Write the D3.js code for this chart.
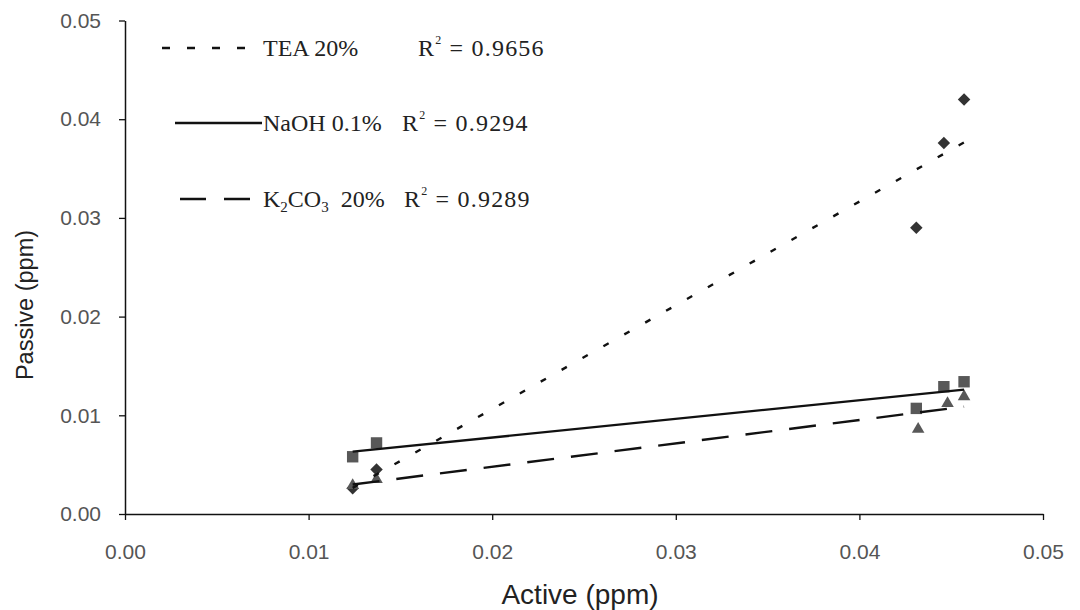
<!DOCTYPE html>
<html>
<head>
<meta charset="utf-8">
<script src="https://cdn.jsdelivr.net/npm/d3@7"></script>
<style>
  body { margin: 0; background: #fff; }
</style>
</head>
<body>
<div id="chart"></div>
<script>

// values (ppm)
var teaActive  = [0.0124, 0.0137, 0.0431, 0.0446, 0.0457];
var teaPassive = [0.0026, 0.0045, 0.0290, 0.0376, 0.0420];

var naohActive  = [0.0124, 0.0137, 0.0431, 0.0446, 0.0457];
var naohPassive = [0.0058, 0.0072, 0.0107, 0.0129, 0.0134];

var k2co3Active  = [0.0124, 0.0137, 0.0432, 0.0448, 0.0457];
var k2co3Passive = [0.0029, 0.0035, 0.0086, 0.0112, 0.0119];

var xTicks = [0, 0.01, 0.02, 0.03, 0.04, 0.05];
var yTicks = [0, 0.01, 0.02, 0.03, 0.04, 0.05];

var seriesNames = ["TEA 20%", "NaOH 0.1%", "K2CO3 20%"];
var r2Values = ["0.9656", "0.9294", "0.9289"];

var width = 1080, height = 610;
var margin = {top: 20.5, right: 37, bottom: 96, left: 125};

var svg = d3.select("#chart")
  .append("svg")
    .attr("width", width)
    .attr("height", height)
    .style("font-family", "'Liberation Sans', Arial, sans-serif");

svg.append("rect").attr("width", width).attr("height", height).attr("fill", "#fff");

var x = d3.scaleLinear()
  .domain([0, 0.05])
  .range([margin.left, width - margin.right]);

var y = d3.scaleLinear()
  .domain([0, 0.05])
  .range([height - margin.bottom, margin.top]);

// axes
var gx = svg.append("g")
  .attr("transform", "translate(0," + y(0) + ")")
  .call(d3.axisBottom(x).tickValues(xTicks).tickFormat(d3.format(".2f"))
    .tickSize(6).tickPadding(24).tickSizeOuter(0));

var gy = svg.append("g")
  .attr("transform", "translate(" + x(0) + ",0)")
  .call(d3.axisLeft(y).tickValues(yTicks).tickFormat(d3.format(".2f"))
    .tickSize(6).tickPadding(18).tickSizeOuter(0));

[gx, gy].forEach(function(g) {
  g.select(".domain").attr("stroke", "#111").attr("stroke-width", 1.5);
  g.selectAll(".tick line").attr("stroke", "#111").attr("stroke-width", 1.3);
  g.selectAll(".tick text")
    .attr("fill", "#555")
    .style("font-size", "21px")
    .style("font-family", "'Liberation Sans', Arial, sans-serif");
});

// axis titles
svg.append("text")
  .attr("x", 580)
  .attr("y", 604)
  .attr("text-anchor", "middle")
  .attr("fill", "#222")
  .style("font-size", "28px")
  .text("Active (ppm)");

svg.append("text")
  .attr("transform", "translate(33,305) rotate(-90)")
  .attr("text-anchor", "middle")
  .attr("fill", "#222")
  .style("font-size", "23.5px")
  .text("Passive (ppm)");

// least squares trend line, like the spreadsheet trendline
function fit(xs, ys) {
  var mx = d3.mean(xs), my = d3.mean(ys);
  var sxy = d3.sum(xs, function(v, i) { return (v - mx) * (ys[i] - my); });
  var sxx = d3.sum(xs, function(v) { return (v - mx) * (v - mx); });
  var b = sxy / sxx;
  return {slope: b, intercept: my - b * mx};
}

var series = [
  {xs: teaActive,   ys: teaPassive,   dash: "6,18",  symbol: "diamond",  color: "#333"},
  {xs: naohActive,  ys: naohPassive,  dash: null,    symbol: "square",   color: "#585858"},
  {xs: k2co3Active, ys: k2co3Passive, dash: "27,17", symbol: "triangle", color: "#585858"}
];

var shapes = {
  diamond:  d3.symbol(d3.symbolSquare, 78)(),
  square:   d3.symbol(d3.symbolSquare, 130)(),
  triangle: d3.symbol(d3.symbolTriangle, 68)()
};

// markers
series.forEach(function(s) {
  svg.append("g")
    .selectAll("path")
    .data(s.xs.map(function(v, i) { return [v, s.ys[i]]; }))
    .enter()
    .append("path")
      .attr("d", shapes[s.symbol])
      .attr("fill", s.color)
      .attr("transform", function(d) {
        return "translate(" + x(d[0]) + "," + y(d[1]) + ")" + (s.symbol === "diamond" ? " rotate(45)" : "");
      });
});

// trend lines
series.forEach(function(s) {
  var f = fit(s.xs, s.ys);
  var ext = d3.extent(s.xs);
  svg.append("line")
    .attr("x1", x(ext[0])).attr("y1", y(f.intercept + f.slope * ext[0]))
    .attr("x2", x(ext[1])).attr("y2", y(f.intercept + f.slope * ext[1]))
    .attr("stroke", "#111")
    .attr("stroke-width", 2.4)
    .attr("stroke-dasharray", s.dash);
});

// legend
var rowY = [48, 123, 199];
var lineStart = [162, 175, 180];
var lineEnd = [250, 262, 250];
var legend = svg.append("g").style("font-family", "'Liberation Serif', 'Times New Roman', serif");

series.forEach(function(s, i) {
  legend.append("line")
    .attr("x1", lineStart[i]).attr("x2", lineEnd[i])
    .attr("y1", rowY[i]).attr("y2", rowY[i])
    .attr("stroke", "#111")
    .attr("stroke-width", 2.4)
    .attr("stroke-dasharray", i === 0 ? "8,17" : (i === 2 ? "26,18" : null));

  var t = legend.append("text")
    .attr("x", 263)
    .attr("y", rowY[i] + 8)
    .attr("fill", "#222")
    .style("font-size", "24px");

  if (i === 2) {
    t.append("tspan").text("K");
    t.append("tspan").attr("dy", 5).style("font-size", "15px").text("2");
    t.append("tspan").attr("dy", -5).text("CO");
    t.append("tspan").attr("dy", 5).style("font-size", "15px").text("3");
    t.append("tspan").attr("dy", -5).text("\u00a0\u00a020%");
  } else {
    t.text(seriesNames[i]);
  }

  var r = legend.append("text")
    .attr("x", [418, 402, 404][i])
    .attr("y", rowY[i] + 8)
    .attr("fill", "#222")
    .style("font-size", "24px")
    .style("letter-spacing", "1.2px");
  r.append("tspan").text("R");
  r.append("tspan").attr("dy", -12).style("font-size", "12px").text("2");
  r.append("tspan").attr("dy", 12).text("\u00a0=\u00a0" + r2Values[i]);
});

</script>
</body>
</html>
